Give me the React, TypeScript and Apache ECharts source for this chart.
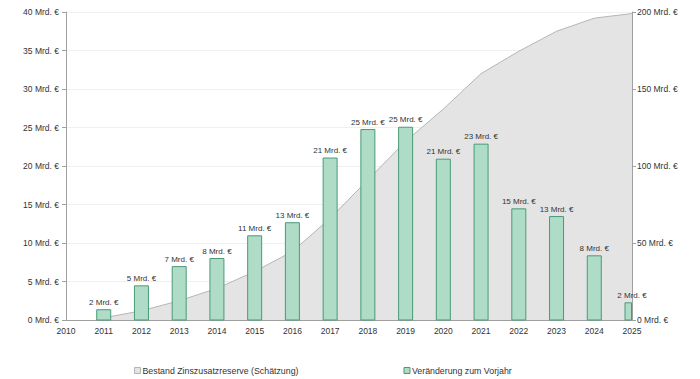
import React, { useEffect, useRef } from "react";
import * as echarts from "echarts";

const years = [2011, 2012, 2013, 2014, 2015, 2016, 2017, 2018, 2019, 2020, 2021, 2022, 2023, 2024, 2025];
const changes = [1.4, 4.5, 7.0, 8.05, 11.0, 12.7, 21.1, 24.8, 25.1, 20.95, 22.9, 14.5, 13.5, 8.4, 2.3];
const changeLabels = [2, 5, 7, 8, 11, 13, 21, 25, 25, 21, 23, 15, 13, 8, 2];
const bestand = [1.4, 6, 12.5, 20.5, 31.5, 44.5, 66, 91, 116, 137, 160, 174.5, 187.5, 196, 199];
const seriesNames = ["Bestand Zinszusatzreserve (Schätzung)", "Veränderung zum Vorjahr"];

const FONT = "Liberation Sans, Arial, sans-serif";
const BAR_W = 15;
const BAR_FILL = "#aedcc6";
const BAR_BORDER = "#4a9a78";

export default function App() {
  const ref = useRef<HTMLDivElement>(null);
  useEffect(() => {
    document.body.style.margin = "0";
    const chart = echarts.init(ref.current!, null, { renderer: "svg" });
    chart.setOption({
      animation: false,
      textStyle: { fontFamily: FONT },
      grid: { left: 66, right: 68, top: 12, bottom: 59 },
      legend: {
        left: 129,
        top: 361,
        itemWidth: 6,
        itemHeight: 6,
        itemGap: 105,
        icon: "rect",
        textStyle: { fontSize: 8.8, color: "#333", fontFamily: FONT, padding: [0, 0, 0, -3] },
        data: [
          { name: seriesNames[0], itemStyle: { color: "#e4e4e4", borderColor: "#b5b5b5", borderWidth: 1 } },
          { name: seriesNames[1], itemStyle: { color: BAR_FILL, borderColor: BAR_BORDER, borderWidth: 1 } },
        ],
      },
      xAxis: {
        type: "value",
        min: 2010,
        max: 2025,
        interval: 1,
        axisLine: { show: true, lineStyle: { color: "#a0a0a0" } },
        axisTick: { show: false },
        splitLine: { show: false },
        axisLabel: { fontSize: 8.5, color: "#333", margin: 6, fontFamily: FONT, formatter: (v: number) => String(v) },
      },
      yAxis: [
        {
          type: "value",
          min: 0,
          max: 40,
          interval: 5,
          axisLine: { show: true, lineStyle: { color: "#a0a0a0" } },
          axisTick: { show: true, length: 4, lineStyle: { color: "#a0a0a0" } },
          splitLine: { show: true, lineStyle: { color: "#f0f0f0" } },
          axisLabel: { fontSize: 8.5, color: "#333", margin: 7, formatter: (v: number) => `${v} Mrd. €`, fontFamily: FONT },
        },
        {
          type: "value",
          min: 0,
          max: 200,
          interval: 50,
          position: "right",
          axisLine: { show: true, lineStyle: { color: "#a0a0a0" } },
          axisTick: { show: true, length: 4, lineStyle: { color: "#a0a0a0" } },
          splitLine: { show: false },
          axisLabel: { fontSize: 8.5, color: "#333", margin: 5, formatter: (v: number) => `${v} Mrd. €`, fontFamily: FONT },
        },
      ],
      series: [
        {
          name: seriesNames[0],
          type: "line",
          yAxisIndex: 1,
          data: years.map((y, i) => [y, bestand[i]]),
          symbol: "none",
          lineStyle: { color: "#b5b5b5", width: 1 },
          itemStyle: { color: "#e4e4e4" },
          areaStyle: { color: "#e4e4e4", opacity: 1 },
          z: 1,
        },
        {
          name: seriesNames[1],
          type: "custom",
          yAxisIndex: 0,
          data: years.map((y, i) => [y, changes[i]]),
          encode: { x: 0, y: 1 },
          itemStyle: { color: BAR_FILL },
          renderItem: (params: any, api: any) => {
            const x = api.value(0);
            const v = api.value(1);
            const top = api.coord([x, v]);
            const base = api.coord([x, 0]);
            const cs = params.coordSys;
            const raw = { x: top[0] - BAR_W / 2, y: top[1], width: BAR_W, height: base[1] - top[1] };
            const clipped = echarts.graphic.clipRectByRect(raw, {
              x: cs.x,
              y: cs.y,
              width: cs.width,
              height: cs.height,
            });
            const children: any[] = [];
            if (clipped) {
              children.push({
                type: "rect",
                shape: { x: clipped.x + 0.5, y: clipped.y + 0.5, width: clipped.width - 1, height: clipped.height - 0.5 },
                style: { fill: BAR_FILL, stroke: BAR_BORDER, lineWidth: 1 },
              });
            }
            children.push({
              type: "text",
              x: top[0],
              y: top[1] - 3,
              style: {
                text: `${changeLabels[params.dataIndex]} Mrd. €`,
                fontSize: 8,
                fontFamily: FONT,
                fill: "#333",
                align: "center",
                verticalAlign: "bottom",
              },
            });
            return { type: "group", children };
          },
          z: 2,
        },
      ],
    });
    return () => chart.dispose();
  }, []);
  return <div ref={ref} style={{ width: 700, height: 379 }} />;
}
